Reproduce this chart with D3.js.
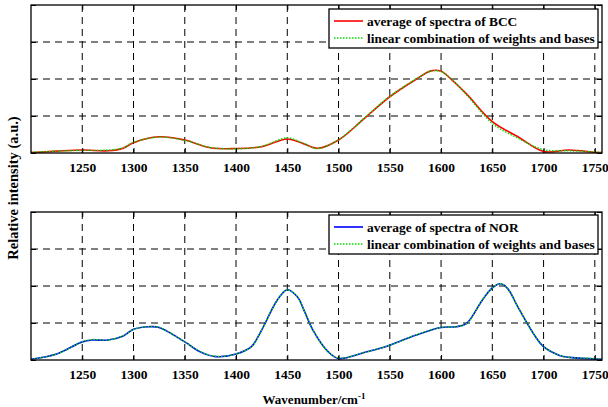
<!DOCTYPE html>
<html>
<head>
<meta charset="utf-8">
<script src="https://cdn.jsdelivr.net/npm/d3@7"></script>
<style>
  body { margin: 0; background: #fff; }
  svg { display: block; }
  text { font-family: "Liberation Serif", "Times New Roman", serif; font-weight: bold; }
</style>
</head>
<body>
<div id="chart"></div>
<script>
const waveBCC = [1200, 1225, 1250, 1275, 1290, 1300, 1325, 1350, 1375, 1400, 1425, 1450, 1465, 1480, 1500, 1525, 1550, 1575, 1590, 1600, 1610, 1625, 1650, 1675, 1700, 1725, 1750, 1757];
const avgBCC    = [0.01, 0.05, 0.08, 0.06, 0.13, 0.28, 0.44, 0.35, 0.14, 0.12, 0.17, 0.38, 0.26, 0.13, 0.35, 0.93, 1.52, 1.98, 2.22, 2.21, 1.99, 1.59, 0.85, 0.44, 0.04, 0.08, 0.02, 0.01];
const fitBCC    = [0.02, 0.05, 0.07, 0.08, 0.14, 0.29, 0.43, 0.34, 0.15, 0.11, 0.18, 0.41, 0.27, 0.12, 0.36, 0.94, 1.53, 1.99, 2.21, 2.20, 2.00, 1.57, 0.80, 0.40, 0.09, 0.06, 0.03, 0.01];

const waveNOR = [1200, 1225, 1250, 1260, 1275, 1290, 1300, 1315, 1325, 1350, 1365, 1380, 1400, 1415, 1425, 1440, 1450, 1460, 1467, 1475, 1490, 1500, 1525, 1550, 1575, 1600, 1615, 1625, 1640, 1650, 1658, 1665, 1675, 1690, 1700, 1715, 1725, 1750, 1757];
const avgNOR    = [0.02, 0.16, 0.49, 0.54, 0.54, 0.65, 0.83, 0.90, 0.88, 0.49, 0.22, 0.09, 0.16, 0.36, 0.81, 1.61, 1.90, 1.70, 1.30, 0.81, 0.22, 0.04, 0.20, 0.40, 0.67, 0.88, 0.90, 0.99, 1.61, 1.95, 2.06, 1.93, 1.43, 0.72, 0.36, 0.13, 0.07, 0.03, 0.02];
const fitNOR    = [0.02, 0.16, 0.49, 0.55, 0.54, 0.65, 0.83, 0.90, 0.88, 0.49, 0.23, 0.10, 0.16, 0.36, 0.81, 1.61, 1.90, 1.70, 1.30, 0.81, 0.22, 0.05, 0.20, 0.40, 0.67, 0.88, 0.90, 0.99, 1.61, 1.95, 2.06, 1.93, 1.43, 0.72, 0.36, 0.13, 0.07, 0.04, 0.02];

const xTicks = [1250, 1300, 1350, 1400, 1450, 1500, 1550, 1600, 1650, 1700, 1750];
const yTicks = [0, 1, 2, 3, 4];
const legendBCC = ["average of spectra of BCC", "linear combination of weights and bases"];
const legendNOR = ["average of spectra of NOR", "linear combination of weights and bases"];

const W = 608, H = 407;
const left = 31, right = 602;
const serif = '"Liberation Serif", "Times New Roman", serif';

const svg = d3.select('#chart').append('svg')
    .attr('width', W)
    .attr('height', H);

const x = d3.scaleLinear().domain([1200, 1757]).range([left, right]);

function drawPanel(top, bottom, wave, avg, fit, color, labels, legTop) {
    const y = d3.scaleLinear().domain([0, 4]).range([bottom, top]);
    const g = svg.append('g');

    // grid
    g.selectAll('.vgrid').data(xTicks).enter().append('line')
        .attr('x1', d => x(d)).attr('x2', d => x(d))
        .attr('y1', top).attr('y2', bottom)
        .attr('stroke', '#000').attr('stroke-width', 1)
        .attr('stroke-dasharray', '7,5');
    g.selectAll('.hgrid').data(yTicks.slice(1, -1)).enter().append('line')
        .attr('x1', left).attr('x2', right)
        .attr('y1', d => y(d)).attr('y2', d => y(d))
        .attr('stroke', '#000').attr('stroke-width', 1)
        .attr('stroke-dasharray', '7,5');

    const line = d3.line()
        .x((d, i) => x(wave[i]))
        .y(d => y(d))
        .curve(d3.curveCatmullRom.alpha(0.5));

    g.append('path').datum(avg)
        .attr('fill', 'none').attr('stroke', color).attr('stroke-width', 1.6)
        .attr('d', line);
    g.append('path').datum(fit)
        .attr('fill', 'none').attr('stroke', '#00e000').attr('stroke-width', 1.4)
        .attr('stroke-dasharray', '1.5,1.5')
        .attr('d', line);

    // axes with inward ticks on all sides
    const bAxis = g.append('g')
        .attr('transform', `translate(0,${bottom})`)
        .call(d3.axisBottom(x).tickValues(xTicks).tickFormat(d3.format('d'))
            .tickSizeInner(-5).tickSizeOuter(0).tickPadding(9));
    bAxis.attr('font-family', serif).attr('font-size', 13.5);
    bAxis.select('.domain').remove();
    bAxis.selectAll('text').attr('fill', '#000');
    const tAxis = g.append('g')
        .attr('transform', `translate(0,${top})`)
        .call(d3.axisTop(x).tickValues(xTicks).tickSizeInner(-5).tickSizeOuter(0).tickFormat(''));
    tAxis.select('.domain').remove();
    const lAxis = g.append('g')
        .attr('transform', `translate(${left},0)`)
        .call(d3.axisLeft(y).tickValues(yTicks).tickSizeInner(-5).tickSizeOuter(0).tickFormat(''));
    lAxis.select('.domain').remove();
    const rAxis = g.append('g')
        .attr('transform', `translate(${right},0)`)
        .call(d3.axisRight(y).tickValues(yTicks).tickSizeInner(-5).tickSizeOuter(0).tickFormat(''));
    rAxis.select('.domain').remove();

    g.append('rect')
        .attr('x', left).attr('y', top)
        .attr('width', right - left).attr('height', bottom - top)
        .attr('fill', 'none').attr('stroke', '#000').attr('stroke-width', 1.3);

    // legend
    const lx = 329, lw = 269, lh = 39;
    const leg = g.append('g').attr('transform', `translate(${lx},${legTop})`);
    leg.append('rect').attr('width', lw).attr('height', lh)
        .attr('fill', '#fff').attr('stroke', '#000').attr('stroke-width', 1.3);
    const styles = [{c: color, d: null, w: 1.6}, {c: '#00e000', d: '1.5,1.5', w: 1.4}];
    labels.forEach((t, i) => {
        const ry = 12 + i * 17;
        leg.append('line')
            .attr('x1', 5).attr('x2', 34).attr('y1', ry).attr('y2', ry)
            .attr('stroke', styles[i].c).attr('stroke-width', styles[i].w)
            .attr('stroke-dasharray', styles[i].d);
        leg.append('text')
            .attr('x', 38).attr('y', ry).attr('dy', '0.35em')
            .attr('font-size', 13.4)
            .text(t);
    });
}

drawPanel(5, 153, waveBCC, avgBCC, fitBCC, '#ff0000', legendBCC, 9);
drawPanel(212, 360, waveNOR, avgNOR, fitNOR, '#0000ff', legendNOR, 215);

// axis titles
svg.append('text')
    .attr('transform', `translate(18,188) rotate(-90)`)
    .attr('text-anchor', 'middle')
    .attr('font-size', 14.5)
    .text('Relative intensity (a.u.)');

const xl = svg.append('text')
    .attr('x', 314).attr('y', 404)
    .attr('text-anchor', 'middle')
    .attr('font-size', 13);
xl.append('tspan').text('Wavenumber/cm');
xl.append('tspan').attr('dy', -5).attr('font-size', 9).text('-1');
</script>
</body>
</html>
